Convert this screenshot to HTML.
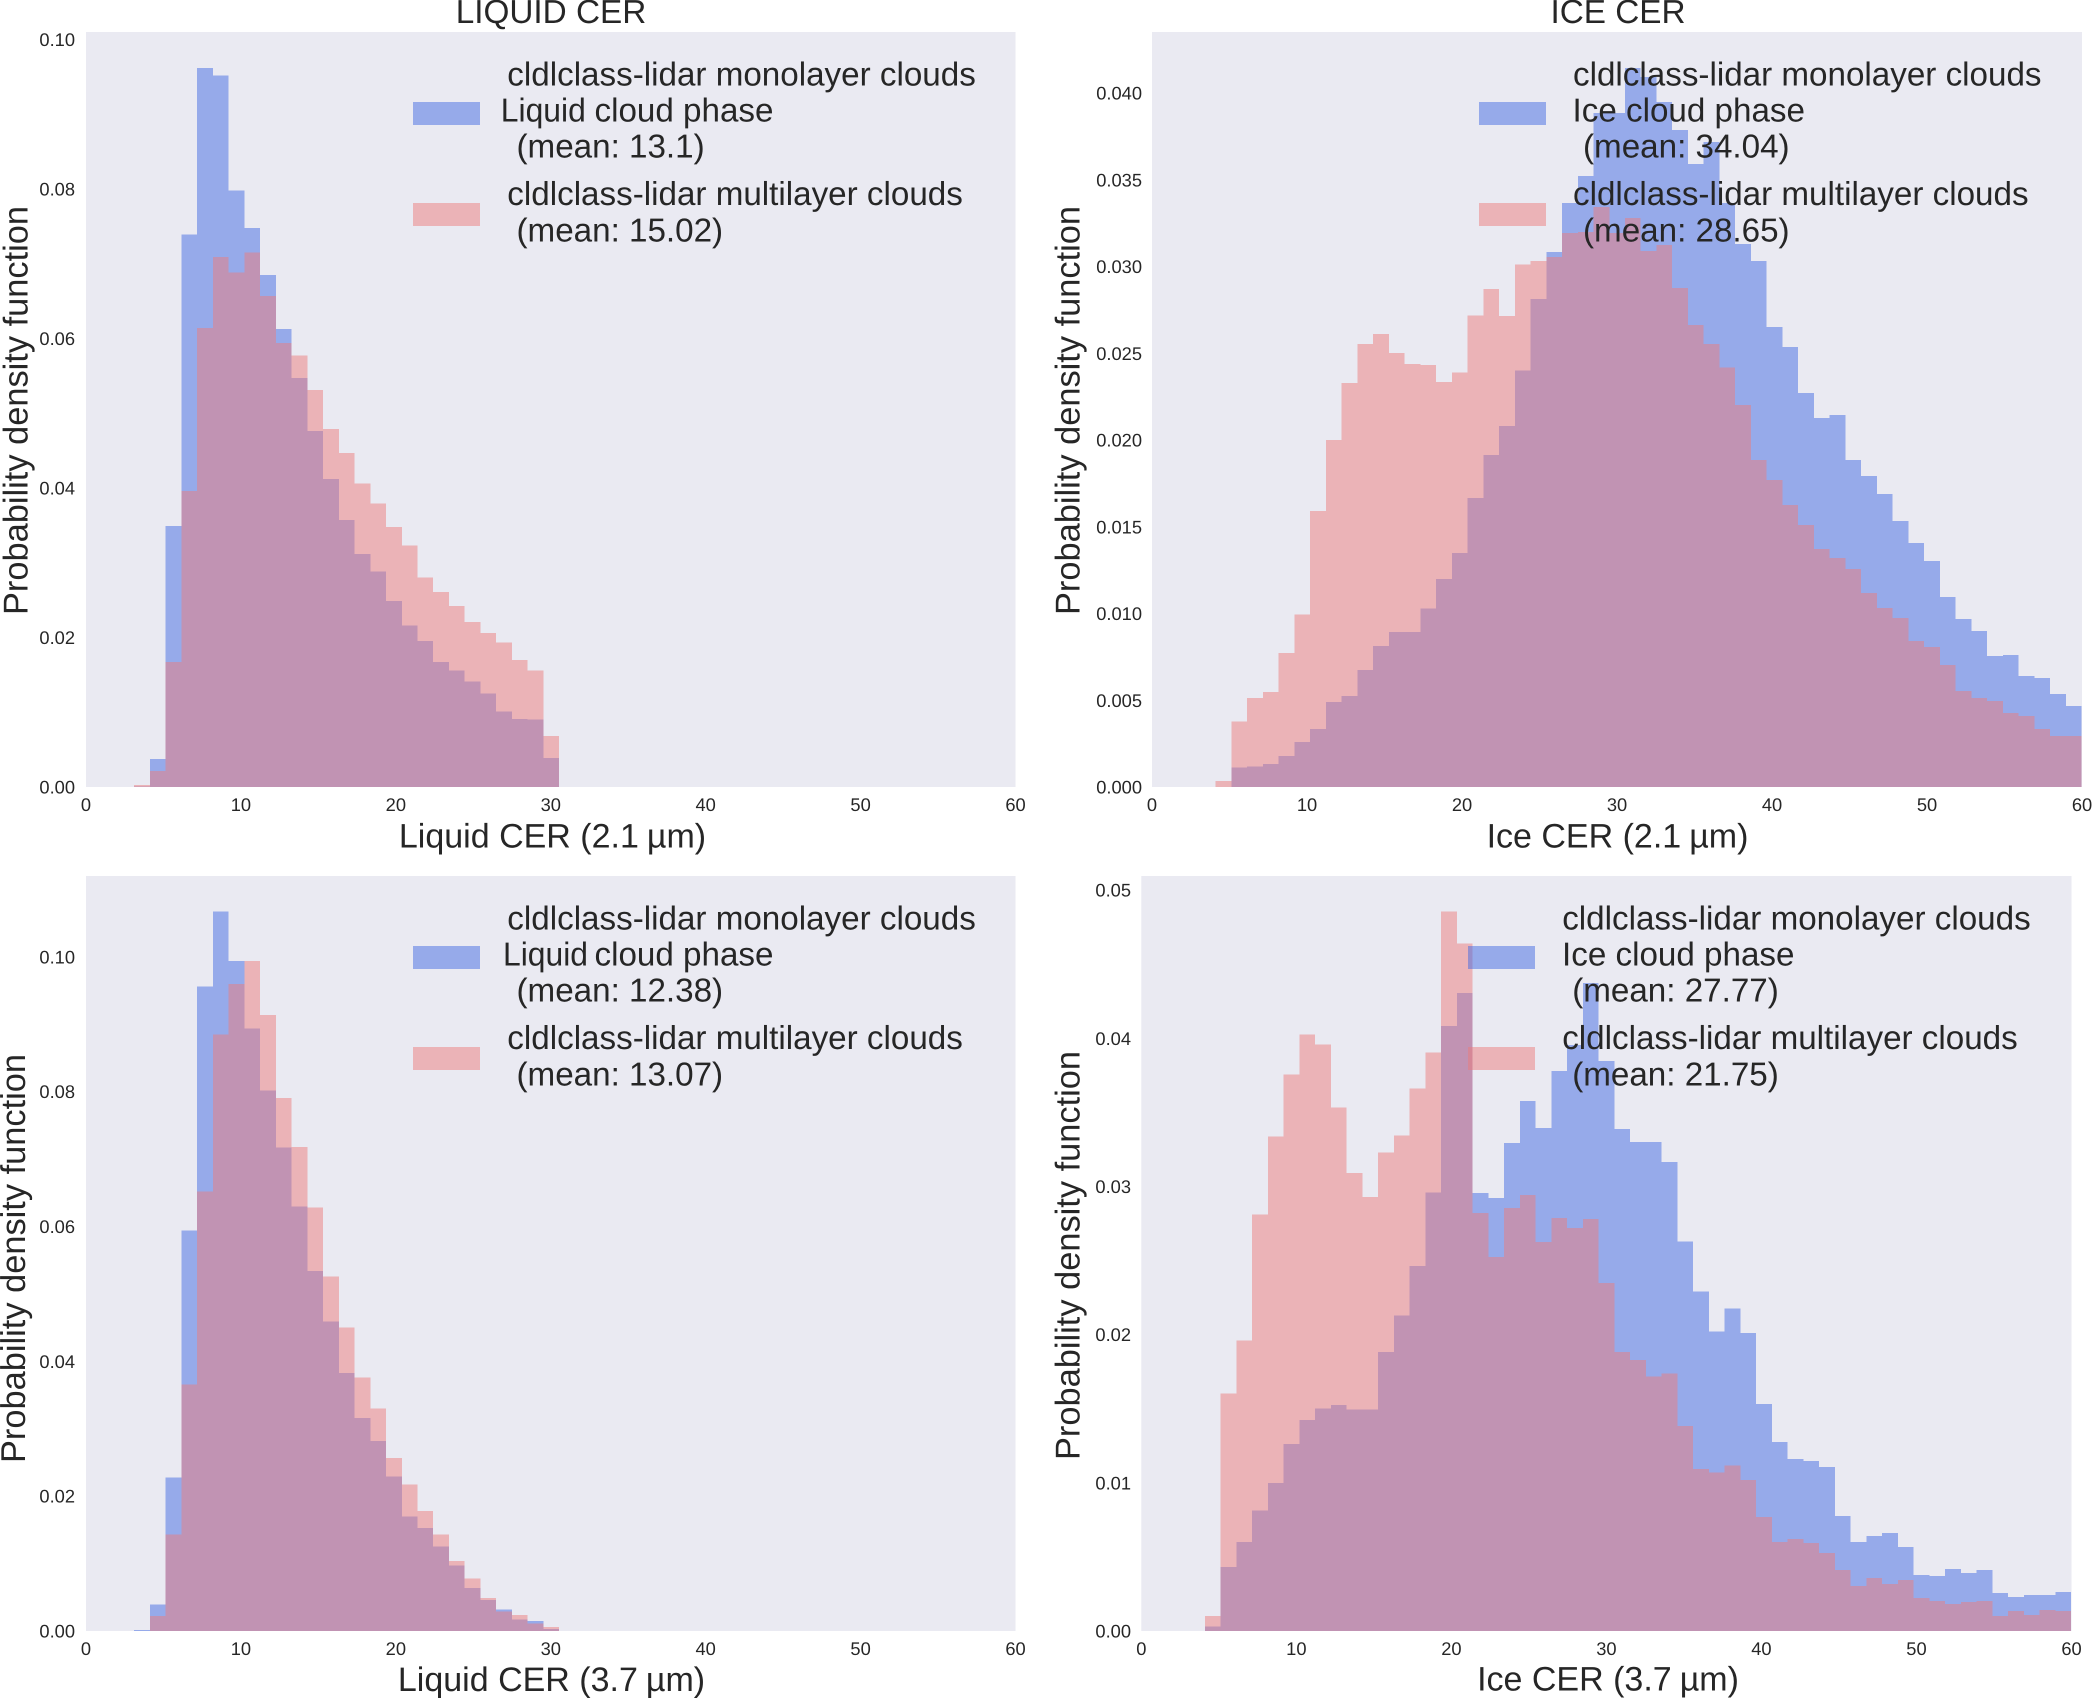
<!DOCTYPE html>
<html lang="en">
<head>
<meta charset="utf-8">
<title>Cloud effective radius histograms</title>
<style>
html,body{margin:0;padding:0;background:#fff;width:2092px;height:1698px;overflow:hidden}
svg{display:block}
text{font-family:"Liberation Sans",Arial,sans-serif;fill:#262626;text-rendering:geometricPrecision}
.tick{font-size:18.3px}
.leg{font-size:33.2px}
.title{font-size:33.3px;text-anchor:middle}
.xl{font-size:34px;text-anchor:middle}
.yl{font-size:34.4px;text-anchor:middle}
.bg{fill:#EAEAF2}
.h-blue{fill:rgb(65,105,225);fill-opacity:.5}
.h-red{fill:rgb(236,124,124);fill-opacity:.5}
</style>
</head>
<body>
<svg id="figure" xmlns="http://www.w3.org/2000/svg" width="2092" height="1698" viewBox="0 0 2092 1698">
  <rect width="2092" height="1698" fill="#fff"/>

  <!-- Panel A -->
  <g>
    <rect class="bg" x="86" y="32" width="929.5" height="755"/>
    <g id="bars-a"></g>
    <g id="ticks-a"></g>
    <text class="title" x="551" y="23">LIQUID CER</text>
    <text class="xl" x="552.5" y="847.5">Liquid CER (2.1<tspan dx="8">µm)</tspan></text>
    <text class="yl" transform="translate(27.5 410.5) rotate(-90)">Probability density function</text>
    <g>
      <rect class="h-blue" x="413" y="102" width="67" height="23"/>
      <rect class="h-red" x="413" y="203" width="67" height="23"/>
      <text class="leg" x="507.3" y="85.7">cldlclass-lidar monolayer clouds</text>
      <text class="leg" x="500.8" y="121.7" textLength="85" lengthAdjust="spacingAndGlyphs">Liquid</text>
      <text class="leg" x="594.5" y="121.7">cloud phase</text>
      <text class="leg" x="516.5" y="157.7">(mean: 13.1)</text>
      <text class="leg" x="507.3" y="205">cldlclass-lidar multilayer clouds</text>
      <text class="leg" x="516.5" y="241.7">(mean: 15.02)</text>
    </g>
  </g>

  <!-- Panel B -->
  <g>
    <rect class="bg" x="1152" y="32" width="930" height="755"/>
    <g id="bars-b"></g>
    <g id="ticks-b"></g>
    <text class="title" x="1618" y="23">ICE CER</text>
    <text class="xl" x="1617.5" y="847.5">Ice CER (2.1<tspan dx="8">µm)</tspan></text>
    <text class="yl" transform="translate(1079.5 410.5) rotate(-90)">Probability density function</text>
    <g>
      <rect class="h-blue" x="1479" y="102" width="67" height="23"/>
      <rect class="h-red" x="1479" y="203" width="67" height="23"/>
      <text class="leg" x="1573" y="85.7">cldlclass-lidar monolayer clouds</text>
      <text class="leg" x="1572.5" y="121.7">Ice cloud phase</text>
      <text class="leg" x="1583" y="157.7">(mean: 34.04)</text>
      <text class="leg" x="1573" y="205">cldlclass-lidar multilayer clouds</text>
      <text class="leg" x="1583" y="241.7">(mean: 28.65)</text>
    </g>
  </g>

  <!-- Panel C -->
  <g>
    <rect class="bg" x="86" y="876" width="929.5" height="755"/>
    <g id="bars-c"></g>
    <g id="ticks-c"></g>
    <text class="xl" x="551.5" y="1691">Liquid CER (3.7<tspan dx="8">µm)</tspan></text>
    <text class="yl" transform="translate(25 1258.5) rotate(-90)">Probability density function</text>
    <g>
      <rect class="h-blue" x="413" y="946" width="67" height="23"/>
      <rect class="h-red" x="413" y="1047" width="67" height="23"/>
      <text class="leg" x="507.3" y="929.7">cldlclass-lidar monolayer clouds</text>
      <text class="leg" x="503" y="965.7" textLength="85" lengthAdjust="spacingAndGlyphs">Liquid</text>
      <text class="leg" x="594.5" y="965.7">cloud phase</text>
      <text class="leg" x="516.5" y="1001.7">(mean: 12.38)</text>
      <text class="leg" x="507.3" y="1048.8">cldlclass-lidar multilayer clouds</text>
      <text class="leg" x="516.5" y="1085.5">(mean: 13.07)</text>
    </g>
  </g>

  <!-- Panel D -->
  <g>
    <rect class="bg" x="1141.3" y="876" width="930.2" height="755"/>
    <g id="bars-d"></g>
    <g id="ticks-d"></g>
    <text class="xl" x="1608" y="1690.5">Ice CER (3.7<tspan dx="8">µm)</tspan></text>
    <text class="yl" transform="translate(1079.5 1255.5) rotate(-90)">Probability density function</text>
    <g>
      <rect class="h-blue" x="1468" y="946" width="67" height="23"/>
      <rect class="h-red" x="1468" y="1047" width="67" height="23"/>
      <text class="leg" x="1562.2" y="929.7">cldlclass-lidar monolayer clouds</text>
      <text class="leg" x="1562" y="965.7">Ice cloud phase</text>
      <text class="leg" x="1572.2" y="1001.7">(mean: 27.77)</text>
      <text class="leg" x="1562.2" y="1048.8">cldlclass-lidar multilayer clouds</text>
      <text class="leg" x="1572.2" y="1085.5">(mean: 21.75)</text>
    </g>
  </g>
</svg>

<script>
// ---- histogram values (probability density per bin) ----
var liquid21Mono = [.0001,.00374,.0349,.0739,.0962,.0952,.0798,.0748,.0685,.0613,.0547,.0476,.0412,.0357,.0312,.0288,.0249,.0216,.0195,.0167,.0156,.0141,.0125,.0101,.0091,.0090,.0039];
var liquid21Multi = [.0003,.00213,.0167,.0396,.0614,.0709,.0688,.0715,.0657,.0594,.0577,.0531,.0479,.0447,.0406,.0379,.0348,.0323,.0280,.0261,.0242,.0221,.0206,.0193,.0170,.0156,.0068];
var ice21Mono = [0,.00111,.00117,.00133,.00180,.00259,.00335,.00490,.00525,.00674,.00813,.00895,.00895,.01028,.01198,.01350,.01666,.01913,.02081,.02400,.02814,.03084,.03367,.03523,.03886,.03886,.04145,.04093,.03949,.03788,.03592,.03719,.03367,.03131,.03033,.02652,.02537,.02272,.02127,.02145,.01885,.01793,.01689,.01534,.01407,.01303,.01095,.00969,.00899,.00755,.00761,.00640,.00628,.00536,.00467];
var ice21Multi = [.00035,.00379,.00512,.00547,.00772,.00996,.01591,.02002,.02330,.02555,.02612,.02501,.02438,.02432,.02334,.02391,.02719,.02871,.02716,.03013,.03032,.03056,.03194,.03200,.03344,.03194,.03280,.03090,.03125,.02877,.02664,.02554,.02419,.02202,.01885,.01770,.01626,.01511,.01372,.01320,.01257,.01118,.01032,.00974,.00842,.00807,.00703,.00553,.00513,.00496,.00427,.00409,.00334,.00294,.00294];
var liquid37Mono = [.00016,.0039,.0228,.0594,.0956,.1067,.0994,.0894,.0802,.0717,.0630,.0534,.0459,.0383,.0316,.0282,.0229,.0170,.0153,.0125,.0097,.0064,.0046,.0032,.0017,.0015,.0003];
var liquid37Multi = [0,.0022,.0143,.0366,.0652,.0885,.0960,.0994,.0914,.0791,.0718,.0628,.0526,.0450,.0376,.0330,.0257,.0217,.0178,.0143,.0104,.0078,.0049,.0029,.0024,.0011,.0006];
var ice37Mono = [.00029,.00433,.00602,.00812,.00999,.01263,.01425,.01501,.01526,.01494,.01494,.01883,.02128,.02464,.02958,.04084,.04307,.02955,.02922,.03293,.03576,.03394,.03779,.03954,.04372,.03846,.03387,.03300,.03300,.03165,.02630,.02291,.02020,.02175,.02011,.01532,.01275,.01161,.01147,.01107,.00776,.00601,.00641,.00661,.00567,.00378,.00371,.00418,.00391,.00412,.00256,.00229,.00243,.00243,.00263];
var ice37Multi = [.00101,.01602,.01959,.02810,.03337,.03755,.04026,.03957,.03532,.03092,.02929,.03229,.03344,.03662,.03903,.04856,.04639,.02820,.02525,.02854,.02942,.02626,.02787,.02719,.02780,.02348,.01883,.01829,.01717,.01739,.01382,.01093,.01068,.01118,.01019,.00769,.00601,.00621,.00594,.00526,.00412,.00304,.00358,.00317,.00344,.00223,.00202,.00182,.00196,.00202,.00101,.00135,.00108,.00142,.00135];

// ---- bin definitions (data units) ----
var binWidth = 1.016;
var liquidBinStart = 3.11;
var iceBinStart = 4.1;

// ---- tick labels ----
var xTickLabels = ["0","10","20","30","40","50","60"];
var yTicksLiquid = ["0.00","0.02","0.04","0.06","0.08","0.10"];
var yTicksIce21 = ["0.000","0.005","0.010","0.015","0.020","0.025","0.030","0.035","0.040"];
var yTicksIce37 = ["0.00","0.01","0.02","0.03","0.04","0.05"];

var SVGNS = "http://www.w3.org/2000/svg";

function makeXScale(left, right) {
  return function (v) { return left + (right - left) * v / 60; };
}
function makeYScale(top, bottom, yMax) {
  return function (v) { return bottom - (bottom - top) * v / yMax; };
}

function drawSeries(group, values, start, xs, ys, cls, name) {
  values.forEach(function (value, i) {
    if (value <= 0) return;
    var x0 = xs(start + i * binWidth);
    var x1 = Math.min(xs(start + (i + 1) * binWidth), xs(60));
    var r = document.createElementNS(SVGNS, "rect");
    r.setAttribute("class", cls);
    r.setAttribute("x", x0);
    r.setAttribute("width", x1 - x0);
    r.setAttribute("y", ys(value));
    r.setAttribute("height", ys(0) - ys(value));
    r.setAttribute("shape-rendering", "crispEdges");
    
    
    group.appendChild(r);
  });
}

function drawTicks(group, xs, ys, yLabels, bottom, yRight) {
  xTickLabels.forEach(function (label) {
    var t = document.createElementNS(SVGNS, "text");
    t.setAttribute("class", "tick");
    t.setAttribute("x", xs(parseFloat(label)));
    t.setAttribute("y", bottom + 24);
    t.setAttribute("text-anchor", "middle");
    
    
    t.textContent = label;
    group.appendChild(t);
  });
  yLabels.forEach(function (label) {
    var t = document.createElementNS(SVGNS, "text");
    t.setAttribute("class", "tick");
    t.setAttribute("x", yRight);
    t.setAttribute("y", ys(parseFloat(label)) + 6.5);
    t.setAttribute("text-anchor", "end");
    
    
    t.textContent = label;
    group.appendChild(t);
  });
}

function drawPanel(id, left, right, top, bottom, yMax, start, mono, multi, yLabels, yRight) {
  var xs = makeXScale(left, right);
  var ys = makeYScale(top, bottom, yMax);
  var bars = document.getElementById("bars-" + id);
  drawSeries(bars, mono, start, xs, ys, "h-blue", "bar-monolayer");
  drawSeries(bars, multi, start, xs, ys, "h-red", "bar-multilayer");
  drawTicks(document.getElementById("ticks-" + id), xs, ys, yLabels, bottom, yRight);
}

drawPanel("a", 86, 1015.5, 32, 787, 0.1010, liquidBinStart, liquid21Mono, liquid21Multi, yTicksLiquid, 75);
drawPanel("b", 1152, 2082, 32, 787, 0.04353, iceBinStart, ice21Mono, ice21Multi, yTicksIce21, 1142);
drawPanel("c", 86, 1015.5, 876, 1631, 0.1120, liquidBinStart, liquid37Mono, liquid37Multi, yTicksLiquid, 75);
drawPanel("d", 1141.3, 2071.5, 876, 1631, 0.05095, iceBinStart, ice37Mono, ice37Multi, yTicksIce37, 1131);
</script>
</body>
</html>
